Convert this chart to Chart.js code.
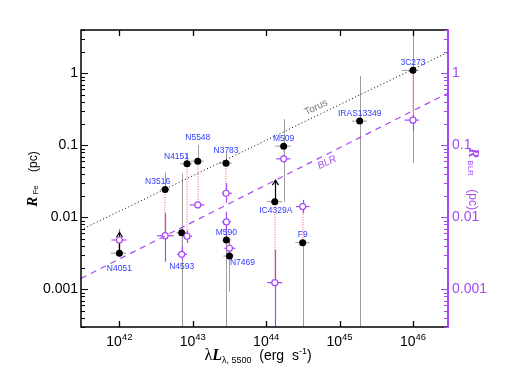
<!DOCTYPE html>
<html>
<head>
<meta charset="utf-8">
<script src="https://cdn.jsdelivr.net/npm/chart.js@4.4.1/dist/chart.umd.min.js"></script>
<style>
  html, body { margin: 0; padding: 0; background: #fff; }
  #wrap { width: 510px; height: 376px; }
</style>
</head>
<body>
<div id="wrap"><canvas id="chart"></canvas></div>
<script>
// object names
const names = ['N4051', 'N3516', 'N4151', 'N4593', 'N5548', 'N3783', 'M590', 'N7469', 'M509', 'IC4329A', 'F9', 'IRAS13349', '3C273'];

// lambda L_lambda,5500 (erg/s) and its error range
const lum   = [1.0e42, 4.2e42, 8.35e42, 7.06e42, 1.17e43, 2.84e43, 2.87e43, 3.16e43, 1.73e44, 1.31e44, 3.14e44, 1.88e45, 1.0e46];
const lumLo = [7.6e41, 3.62e42, 6.78e42, 5.98e42, 9.27e42, 2.25e43, 2.5e43, 2.6e43, 1.33e44, 1.03e44, 2.5e44, 1.48e45, 7.1e45];
const lumHi = [1.23e42, 4.84e42, 9.78e42, 8.44e42, 1.41e43, 3.43e43, 3.36e43, 3.6e43, 2.18e44, 1.65e44, 3.92e44, 2.37e45, 1.2e46];

// R_Fe (pc), black points
const rFe   = [0.00317, 0.0243, 0.0553, 0.00612, 0.0603, 0.0566, 0.00485, 0.0029, 0.0975, 0.0165, 0.00445, 0.217, 1.10];
const rFeLo = [0.00317, 0.0243, 0.0553, 1e-5, 0.0603, 0.0566, 1e-5, 0.00093, 0.0165, 0.0165, 1e-5, 1e-5, 0.057];
const rFeHi = [0.00317, 0.0419, 0.078, 0.041, 0.1016, 0.078, 0.0075, 0.0029, 0.231, 0.0165, 0.00445, 0.917, 10];
// lower limits drawn as arrows
const rFeLimit = [0.0062, null, null, null, null, null, null, null, null, 0.0329, null, null, null];

// R_BLR (pc), open purple points
const rBlr   = [0.00485, 0.00556, 0.00546, 0.00307, 0.01487, 0.0216, 0.00863, 0.00372, 0.0649, 0.00124, 0.0141, null, 0.224];
const rBlrLo = [0.00317, 0.00242, 0.0044, 0.00256, 0.0135, 0.016, 0.0055, 0.003, 0.058, 1e-5, 0.0114, null, 0.157];
const rBlrHi = [0.00683, 0.0114, 0.0066, 0.004, 0.0165, 0.03, 0.012, 0.0047, 0.072, 0.00355, 0.0175, null, 0.263];
const blrLumLo = [7.8e41, 3.27e42, 7.38e42, 6.1e42, 9.08e42, 2.5e43, 2.5e43, 2.69e43, 1.37e44, 1.03e44, 2.55e44, null, 7.7e45];
const blrLumHi = [1.25e42, 5.5e42, 9.78e42, 8.35e42, 1.44e43, 3.43e43, 3.33e43, 3.8e43, 2.14e44, 1.65e44, 3.9e44, null, 1.2e46];

// relation lines (end points)
const lineLum = [3e41, 3e46];
const torusR  = [0.00671, 1.963];
const blrR    = [0.00142, 0.532];

// axes
const xMin = 3e41, xMax = 3e46;
const yMin = 3e-4, yMax = 4;
const xTickVals = [1e42, 1e43, 1e44, 1e45, 1e46];
const xTickExp  = ['42', '43', '44', '45', '46'];
const yTickVals = [0.001, 0.01, 0.1, 1];
const yTickLabels = ['0.001', '0.01', '0.1', '1'];

// label offsets from the black point (px)
const labelDx = [0, -7.5, -10.5, 0, 0, 0, 0, 13, 0, 1, 0, 0, 0];
const labelDy = [15, -7.5, -7.5, 34, -23.5, -12.5, -7, 7, -7.5, 9, -8, -7.5, -7.5];

const PURPLE = '#a748f2';
const BLUE = '#2f3cff';
const GRAY = '#9c9c9c';
const SANS = '"Liberation Sans", Arial, sans-serif';
const SERIF = '"Liberation Serif", "Times New Roman", serif';

function seg(ctx, x1, y1, x2, y2) {
    ctx.beginPath();
    ctx.moveTo(x1, y1);
    ctx.lineTo(x2, y2);
    ctx.stroke();
}

function drawRuns(ctx, runs, x, y) {
    let w = 0;
    runs.forEach(r => { ctx.font = r.font; r.w = ctx.measureText(r.text).width; w += r.w; });
    let cx = x - w / 2;
    runs.forEach(r => {
        ctx.font = r.font;
        ctx.fillText(r.text, cx, y + (r.dy || 0));
        cx += r.w;
    });
}

const overlay = {
    id: 'overlay',
    beforeDatasetsDraw(chart) {
        const { ctx, chartArea: a, scales: { x, y, y2 } } = chart;
        ctx.save();
        ctx.beginPath();
        ctx.rect(a.left, a.top, a.right - a.left, a.bottom - a.top);
        ctx.clip();

        // dotted connectors R_Fe -> R_BLR
        ctx.strokeStyle = '#ffa8b2';
        ctx.lineWidth = 2;
        ctx.setLineDash([1, 1.5]);
        names.forEach((n, i) => {
            if (rBlr[i] == null) return;
            const px = Math.round(x.getPixelForValue(lum[i]));
            seg(ctx, px, y.getPixelForValue(rFe[i]), px, y2.getPixelForValue(rBlr[i]));
        });
        ctx.setLineDash([]);

        // gray error bars of R_Fe
        ctx.strokeStyle = GRAY;
        ctx.lineWidth = 1;
        names.forEach((n, i) => {
            const px = Math.round(x.getPixelForValue(lum[i])) + 0.5;
            const py = y.getPixelForValue(rFe[i]);
            seg(ctx, x.getPixelForValue(lumLo[i]), py, x.getPixelForValue(lumHi[i]), py);
            seg(ctx, px, y.getPixelForValue(rFeLo[i]), px, y.getPixelForValue(rFeHi[i]));
        });

        // purple error bars of R_BLR
        ctx.strokeStyle = PURPLE;
        ctx.lineWidth = 1.2;
        names.forEach((n, i) => {
            if (rBlr[i] == null) return;
            const px = Math.round(x.getPixelForValue(lum[i])) + 0.5;
            const py = y2.getPixelForValue(rBlr[i]);
            seg(ctx, x.getPixelForValue(blrLumLo[i]), py, x.getPixelForValue(blrLumHi[i]), py);
            seg(ctx, px, y2.getPixelForValue(rBlrLo[i]), px, y2.getPixelForValue(rBlrHi[i]));
        });

        // lower-limit arrows
        ctx.strokeStyle = '#000';
        ctx.lineWidth = 1.2;
        names.forEach((n, i) => {
            if (rFeLimit[i] == null) return;
            const px = Math.round(x.getPixelForValue(lum[i])) + 0.5;
            const y0 = y.getPixelForValue(rFe[i]);
            const y1 = y.getPixelForValue(rFeLimit[i]);
            seg(ctx, px, y0, px, y1);
            ctx.beginPath();
            ctx.moveTo(px - 3, y1 + 5);
            ctx.lineTo(px, y1);
            ctx.lineTo(px + 3, y1 + 5);
            ctx.stroke();
        });
        ctx.restore();
    },
    afterDraw(chart) {
        const { ctx, chartArea: a, scales: { x, y, y2 } } = chart;
        ctx.save();

        // object labels
        ctx.fillStyle = BLUE;
        ctx.font = '8.5px ' + SANS;
        ctx.textAlign = 'center';
        ctx.textBaseline = 'middle';
        names.forEach((n, i) => {
            ctx.fillText(n, x.getPixelForValue(lum[i]) + labelDx[i], y.getPixelForValue(rFe[i]) + labelDy[i]);
        });

        // relation labels
        const ang = Math.atan2(y.getPixelForValue(torusR[1]) - y.getPixelForValue(torusR[0]),
                               x.getPixelForValue(lineLum[1]) - x.getPixelForValue(lineLum[0]));
        ctx.save();
        ctx.translate(316, 107.5);
        ctx.rotate(ang);
        ctx.fillStyle = '#7a7a7a';
        ctx.font = '10px ' + SANS;
        ctx.fillText('Torus', 0, 0);
        ctx.restore();
        ctx.save();
        ctx.translate(327, 162.5);
        ctx.rotate(ang);
        ctx.fillStyle = PURPLE;
        ctx.font = 'italic 10px ' + SANS;
        ctx.fillText('BLR', 0, 0);
        ctx.restore();

        // frame
        ctx.strokeStyle = '#000';
        ctx.lineWidth = 1.5;
        ctx.beginPath();
        ctx.moveTo(a.right, a.top);
        ctx.lineTo(a.left, a.top);
        ctx.lineTo(a.left, a.bottom);
        ctx.lineTo(a.right, a.bottom);
        ctx.stroke();
        ctx.strokeStyle = PURPLE;
        ctx.lineWidth = 2;
        seg(ctx, a.right, a.top - 0.75, a.right, a.bottom + 0.75);

        // y ticks (major and minor, inward)
        for (let e = -4; e <= 1; e++) {
            for (let m = 1; m <= 9; m++) {
                const v = m * Math.pow(10, e);
                if (v < yMin || v > yMax) continue;
                const len = m === 1 ? 7 : 4;
                const pl = Math.round(y.getPixelForValue(v)) + 0.5;
                ctx.lineWidth = 1;
                ctx.strokeStyle = '#000';
                seg(ctx, a.left, pl, a.left + len, pl);
                ctx.strokeStyle = PURPLE;
                seg(ctx, a.right, pl, a.right - len, pl);
            }
        }
        // x ticks
        ctx.strokeStyle = '#000';
        ctx.lineWidth = 1.3;
        xTickVals.forEach(v => {
            const px = Math.round(x.getPixelForValue(v)) + 0.5;
            seg(ctx, px, a.bottom, px, a.bottom - 6);
            seg(ctx, px, a.top, px, a.top + 6);
        });

        // y tick labels
        ctx.textBaseline = 'middle';
        ctx.font = '14px ' + SANS;
        yTickVals.forEach((v, i) => {
            const py = y.getPixelForValue(v);
            ctx.fillStyle = '#000';
            ctx.textAlign = 'right';
            ctx.fillText(yTickLabels[i], a.left - 3, py);
            ctx.fillStyle = PURPLE;
            ctx.textAlign = 'left';
            ctx.fillText(yTickLabels[i], a.right + 4, py);
        });

        // x tick labels 10^n
        ctx.fillStyle = '#000';
        ctx.textAlign = 'left';
        ctx.textBaseline = 'alphabetic';
        xTickVals.forEach((v, i) => {
            drawRuns(ctx, [
                { text: '10', font: '14px ' + SANS },
                { text: xTickExp[i], font: '9.5px ' + SANS, dy: -6 }
            ], x.getPixelForValue(v), a.bottom + 18.5);
        });

        // x title
        drawRuns(ctx, [
            { text: 'λ', font: '16px ' + SERIF },
            { text: 'L', font: 'bold italic 16px ' + SERIF },
            { text: 'λ, 5500', font: '9px ' + SANS, dy: 3 },
            { text: '  (erg  s', font: '14px ' + SANS },
            { text: '-1', font: '9px ' + SANS, dy: -6 },
            { text: ')', font: '14px ' + SANS }
        ], 258, 360);

        // left title
        ctx.save();
        ctx.translate(37, 179);
        ctx.rotate(-Math.PI / 2);
        drawRuns(ctx, [
            { text: 'R', font: 'bold italic 15px ' + SERIF },
            { text: ' Fe', font: '8px ' + SANS, dy: 1 },
            { text: '    (pc)', font: '12px ' + SANS }
        ], 0, 0);
        ctx.restore();

        // right title
        ctx.save();
        ctx.translate(469, 179);
        ctx.rotate(Math.PI / 2);
        ctx.fillStyle = PURPLE;
        drawRuns(ctx, [
            { text: 'R', font: 'bold italic 15px ' + SERIF },
            { text: ' BLR', font: '8px ' + SANS, dy: 1 },
            { text: '    (pc)', font: '12px ' + SANS }
        ], 0, 0);
        ctx.restore();

        ctx.restore();
    }
};

const toXY = (xs, ys) => xs.map((v, i) => ({ x: v, y: ys[i] })).filter(p => p.y != null);

new Chart(document.getElementById('chart'), {
    type: 'scatter',
    data: {
        datasets: [
            {
                type: 'line',
                label: 'Torus',
                data: toXY(lineLum, torusR),
                borderColor: '#000',
                borderWidth: 1,
                borderDash: [1, 2.5],
                pointRadius: 0,
                yAxisID: 'y'
            },
            {
                type: 'line',
                label: 'BLR',
                data: toXY(lineLum, blrR),
                borderColor: PURPLE,
                borderWidth: 1.2,
                borderDash: [6, 5],
                pointRadius: 0,
                yAxisID: 'y2'
            },
            {
                label: 'R_BLR',
                data: toXY(lum, rBlr),
                pointRadius: 3,
                pointBackgroundColor: '#fff',
                pointBorderColor: PURPLE,
                pointBorderWidth: 1.2,
                yAxisID: 'y2'
            },
            {
                label: 'R_Fe',
                data: toXY(lum, rFe),
                pointRadius: 3.5,
                pointBackgroundColor: '#000',
                pointBorderWidth: 0,
                yAxisID: 'y'
            }
        ]
    },
    options: {
        responsive: true,
        maintainAspectRatio: false,
        animation: false,
        layout: { padding: { left: 81, right: 62, top: 30, bottom: 49 } },
        scales: {
            x: { type: 'logarithmic', min: xMin, max: xMax, display: false },
            y: { type: 'logarithmic', min: yMin, max: yMax, display: false },
            y2: { type: 'logarithmic', position: 'right', min: yMin, max: yMax, display: false }
        },
        plugins: {
            legend: { display: false },
            tooltip: { enabled: false }
        }
    },
    plugins: [overlay]
});
</script>
</body>
</html>
